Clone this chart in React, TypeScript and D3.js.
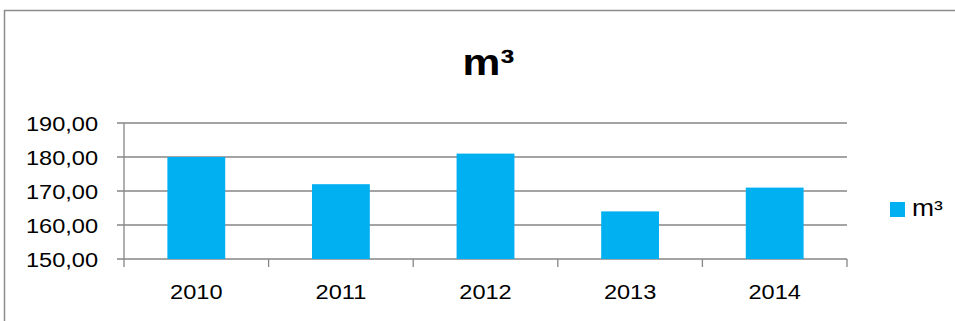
import React from "react";
import * as d3 from "d3";

const categories = ["2010", "2011", "2012", "2013", "2014"];
const values = [180, 172, 181, 164, 171];
const yTicks = [150, 160, 170, 180, 190];
const seriesName = "m³";
const title = "m³";

const W = 955;
const H = 321;
const margin = { left: 124, right: 847, top: 123, bottom: 259 };
const SX = 1.15;
const FONT = "'Liberation Sans', Arial, sans-serif";

export default function App() {
  const x = d3
    .scaleBand<string>()
    .domain(categories)
    .range([margin.left, margin.right])
    .paddingInner(0)
    .paddingOuter(0);
  const y = d3.scaleLinear().domain([150, 190]).range([margin.bottom, margin.top]);
  const barW = x.bandwidth() * 0.4;
  const grid = "#868686";
  const color = "#00B0F0";
  const boundaries = [...categories.map((c) => x(c) as number), margin.right];

  return (
    <svg
      width={W}
      height={H}
      style={{ position: "absolute", left: 0, top: 0, background: "#fff" }}
    >
      <rect x={4.5} y={10.5} width={1200} height={600} fill="#fff" stroke="#8c8c8c" strokeWidth={1.5} />
      <text
        transform={`translate(${(margin.left + margin.right) / 2 + 3},75) scale(${SX},1)`}
        textAnchor="middle"
        fontFamily={FONT}
        fontWeight="bold"
        fontSize={37}
        fill="#000"
      >
        {title}
      </text>
      {yTicks.map((t) => (
        <g key={t}>
          <line x1={margin.left - 7} x2={margin.right} y1={y(t)} y2={y(t)} stroke={grid} strokeWidth={1.3} />
          <text
            transform={`translate(${margin.left - 26},${y(t) + 7.5}) scale(${SX},1)`}
            textAnchor="end"
            fontFamily={FONT}
            fontSize={20.5}
            fill="#000"
          >
            {d3.format(".2f")(t).replace(".", ",")}
          </text>
        </g>
      ))}
      <line x1={margin.left} x2={margin.left} y1={margin.top} y2={margin.bottom} stroke={grid} strokeWidth={1.3} />
      {boundaries.map((b, i) => (
        <line key={i} x1={b} x2={b} y1={margin.bottom} y2={margin.bottom + 8} stroke={grid} strokeWidth={1.3} />
      ))}
      {categories.map((c, i) => {
        const cx = (x(c) as number) + x.bandwidth() / 2;
        return (
          <g key={c}>
            <rect x={cx - barW / 2} y={y(values[i])} width={barW} height={margin.bottom - y(values[i])} fill={color} />
            <text
              transform={`translate(${cx},299) scale(${SX},1)`}
              textAnchor="middle"
              fontFamily={FONT}
              fontSize={20.5}
              fill="#000"
            >
              {c}
            </text>
          </g>
        );
      })}
      <rect x={890} y={202} width={15} height={15} fill={color} />
      <text
        transform={`translate(912,216) scale(${SX},1)`}
        fontFamily={FONT}
        fontSize={23}
        fill="#000"
      >
        {seriesName}
      </text>
    </svg>
  );
}
